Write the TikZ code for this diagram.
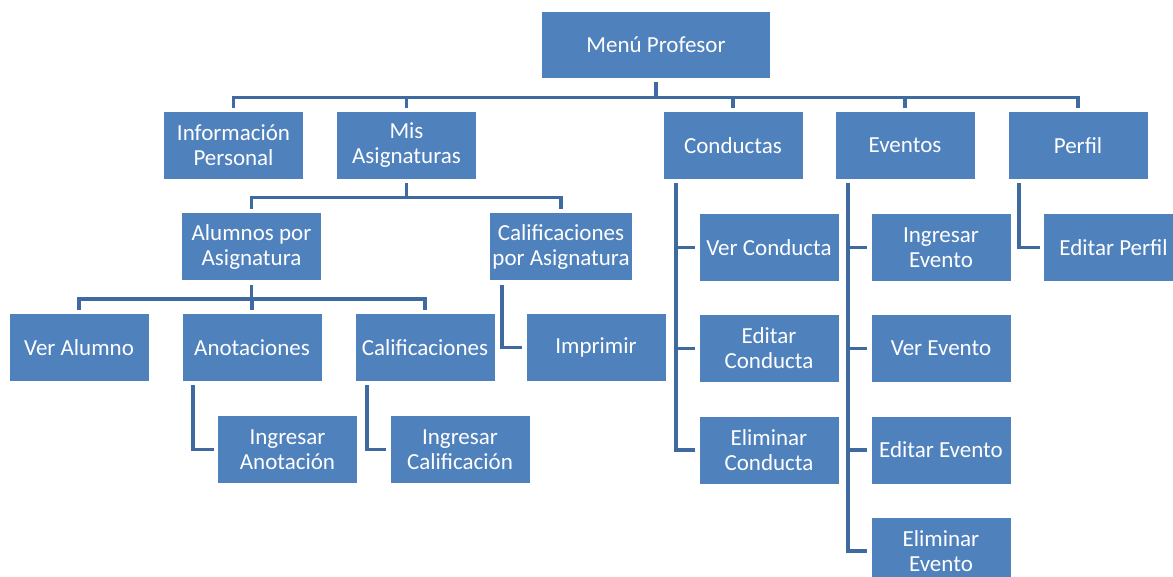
\documentclass[tikz,border=0pt]{standalone}
\usepackage{fontspec}
\setmainfont{Carlito}
\usepackage{tikz}
\definecolor{boxblue}{HTML}{4F81BD}
\definecolor{lineblue}{HTML}{3F6A9F}

\begin{document}
\begin{tikzpicture}[x=0.5pt,y=-0.5pt,
  caja/.style={fill=boxblue,text=white,minimum width=69.5pt,minimum height=33.5pt,inner sep=1pt,align=center,font=\fontsize{11.5}{12.5}\selectfont},
  enlace/.style={draw=lineblue,line width=1.75pt,shorten <=2pt,shorten >=2pt}]
  \useasboundingbox (0,0) rectangle (1173,577);
  % nivel superior
  \node[caja,minimum width=114pt,minimum height=33pt] (menu) at (656,45) {Menú Profesor};
  \node[caja] (info) at (233.5,145.5) {Información\\Personal};
  \node[caja] (mis) at (406.5,145.5) {Mis\\Asignaturas};
  \node[caja] (cond) at (733,145.5) {Conductas};
  \node[caja] (even) at (905,145.5) {Eventos};
  \node[caja] (perf) at (1078,145.5) {Perfil};
  % asignaturas
  \node[caja] (alum) at (251.5,247) {Alumnos por\\Asignatura};
  \node[caja] (calasig) at (561,247) {Calificaciones\\por Asignatura};
  \node[caja] (veralum) at (79,347.5) {Ver Alumno};
  \node[caja] (anot) at (252,347.5) {Anotaciones};
  \node[caja] (calif) at (425,347.5) {Calificaciones};
  \node[caja] (impr) at (596,347.5) {Imprimir};
  \node[caja] (inganot) at (287.5,449.5) {Ingresar\\Anotación};
  \node[caja] (ingcalif) at (460,449.5) {Ingresar\\Calificación};
  % conductas y eventos
  \node[caja] (vercond) at (769,247.5) {Ver Conducta};
  \node[caja] (edcond) at (769,348.5) {Editar\\Conducta};
  \node[caja] (elcond) at (769,450) {Eliminar\\Conducta};
  \node[caja] (ingev) at (941,247.5) {Ingresar\\Evento};
  \node[caja] (verev) at (941,348.5) {Ver Evento};
  \node[caja] (edev) at (941,450) {Editar Evento};
  \node[caja] (elev) at (941,551) {Eliminar\\Evento};
  \node[caja] (edperf) at (1113.5,247.5) {Editar Perfil};
  % enlaces
  \foreach \hijo in {info,mis,cond,even,perf}
    \draw[enlace] (menu.south) -- ++(0,19) -| (\hijo.north);
  \foreach \hijo in {alum,calasig}
    \draw[enlace] (mis.south) -- ++(0,18) -| (\hijo.north);
  \foreach \hijo in {veralum,anot,calif}
    \draw[enlace] (alum.south) -- ++(0,18) -| (\hijo.north);
  \draw[enlace] ([xshift=6pt]calasig.south west) |- (impr.west);
  \draw[enlace] ([xshift=5.5pt]anot.south west) |- (inganot.west);
  \draw[enlace] ([xshift=6pt]calif.south west) |- (ingcalif.west);
  \foreach \hijo in {vercond,edcond,elcond}
    \draw[enlace] ([xshift=6.5pt]cond.south west) |- (\hijo.west);
  \foreach \hijo in {ingev,verev,edev,elev}
    \draw[enlace] ([xshift=6.5pt]even.south west) |- (\hijo.west);
  \draw[enlace] ([xshift=5.5pt]perf.south west) |- (edperf.west);
\end{tikzpicture}
\end{document}
